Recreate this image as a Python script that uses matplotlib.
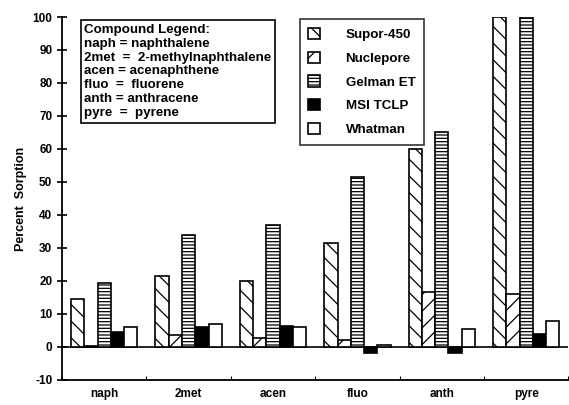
import matplotlib
matplotlib.use("Agg")
import matplotlib.pyplot as plt
import numpy as np
from matplotlib.patches import Patch

plt.rcParams['font.family'] = ['Liberation Sans', 'DejaVu Sans']
plt.rcParams['font.weight'] = 'bold'
plt.rcParams['hatch.linewidth'] = 0.9

compounds = ["naph", "2met", "acen", "fluo", "anth", "pyre"]
filters = ["Supor-450", "Nuclepore", "Gelman ET", "MSI TCLP", "Whatman"]
supor = [14.5, 21.5, 20.0, 31.5, 60.0, 100.0]
nuclepore = [0.3, 3.5, 2.7, 2.2, 16.5, 16.0]
gelman = [19.5, 34.0, 37.0, 51.5, 65.0, 100.0]
msi = [4.4, 6.0, 6.3, -1.8, -1.8, 4.0]
whatman = [5.9, 6.9, 6.1, 0.5, 5.5, 7.7]
yticks = list(range(-10, 101, 10))

series = [supor, nuclepore, gelman, msi, whatman]
hatches = ['\\\\', '//', '-----', None, None]
faces = ['white', 'white', 'white', 'black', 'white']

fig = plt.figure(figsize=(5.69, 4.05), dpi=100)
ax = fig.add_axes([0.109, 0.062, 0.89, 0.896])

x = np.arange(len(compounds)) + 0.5
w = 0.157
for i, (vals, h, fc) in enumerate(zip(series, hatches, faces)):
    ax.bar(x + (i - 2) * w, vals, width=w, color=fc, edgecolor='black',
           linewidth=1.2, hatch=h, label=filters[i], zorder=3)

ax.axhline(0, color='black', linewidth=1.2, zorder=2)
ax.set_xlim(0, 6)
ax.set_ylim(-10, 100)
ax.set_yticks(yticks)
ax.set_yticklabels([str(t) for t in yticks], fontsize=8.5, fontweight='bold')
ax.set_xticks(np.arange(0, 7))
ax.set_xticklabels([])
ax.set_xticks(x, minor=True)
ax.set_xticklabels(compounds, minor=True, fontsize=8.5, fontweight='bold')
ax.tick_params(axis='x', which='minor', length=0, pad=6)
ax.tick_params(axis='x', which='major', direction='in', length=3)
ax.tick_params(axis='y', direction='inout', length=7, width=1.2)
for s in ['top', 'right']:
    ax.spines[s].set_visible(False)
ax.spines['left'].set_linewidth(1.3)
ax.spines['bottom'].set_linewidth(1.3)
ax.set_ylabel("Percent  Sorption", fontsize=9, fontweight='bold', labelpad=4)

txt = ("Compound Legend:\nnaph = naphthalene\n2met  =  2-methylnaphthalene\n"
       "acen = acenaphthene\nfluo  =  fluorene\nanth = anthracene\npyre  =  pyrene")
ax.text(0.044, 0.982, txt, transform=ax.transAxes, va='top', ha='left',
        fontsize=9.6, fontweight='bold', linespacing=1.22,
        bbox=dict(boxstyle='square,pad=0.28', facecolor='white', edgecolor='black', linewidth=1.2),
        zorder=5)

handles = [Patch(facecolor=fc, edgecolor='black', hatch=h, linewidth=1.2, label=lab)
           for fc, h, lab in zip(faces, hatches, filters)]
leg = ax.legend(handles=handles, loc='upper left', bbox_to_anchor=(0.469, 0.994),
                frameon=True, fancybox=False, edgecolor='black', fontsize=9.6,
                handlelength=0.9, handleheight=0.9, labelspacing=0.8,
                handletextpad=1.9, borderpad=0.65, borderaxespad=0.0)
leg.get_frame().set_linewidth(1.2)
leg.set_zorder(5)

fig.savefig("out.png", dpi=100)
